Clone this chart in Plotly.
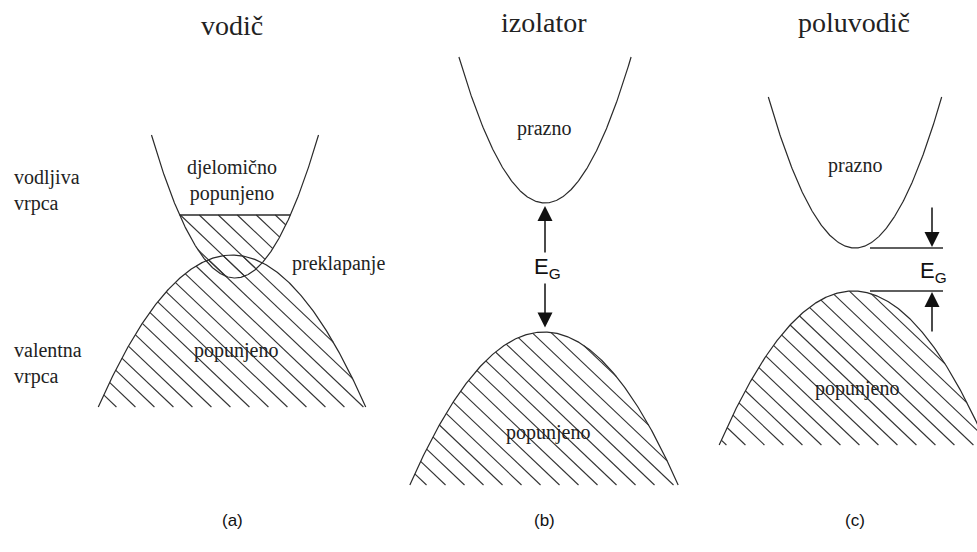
import numpy as np
import plotly.graph_objects as go

# ---------------- data (k = momentum axis, E = energy axis) ----------------
panel_titles = ["vodič", "izolator", "poluvodič"]
panel_tags = ["(a)", "(b)", "(c)"]

# conduction bands: E = E0 + a (k - k0)^2, drawn up to Emax
cb_k0 = [235, 545, 855]
cb_E0 = [274, 349, 304]
cb_curv = [0.0205, 0.0197, 0.0201]
cb_Emax = [417, 495, 455]

# valence bands: E = E0 - a (k - k0)^2, drawn down to Emin
vb_k0 = [232, 544, 853]
vb_E0 = [297, 220, 261]
vb_curv = [0.0085, 0.0085, 0.0086]
vb_Emin = [145, 67, 107]

# filling level in the conductor's conduction band
fermi_E_a = 337

band_labels_left = ["vodljiva<br>vrpca", "valentna<br>vrpca"]
cb_texts = ["djelomično<br>popunjeno", "prazno", "prazno"]
vb_texts = ["popunjeno", "popunjeno", "popunjeno"]
overlap_text = "preklapanje"
gap_text = "E<sub>G</sub>"

# ---------------- layout constants ----------------
W, H = 977, 552
LINE = "#2a2a2a"
SERIF = "Liberation Serif"
SANS = "Liberation Sans"
HATCH_SLOPE = 0.95
HATCH_DK = 19.0

fig = go.Figure()


def cb_curve(i):
    dk = np.sqrt((cb_Emax[i] - cb_E0[i]) / cb_curv[i])
    k = np.linspace(cb_k0[i] - dk, cb_k0[i] + dk, 300)
    return k, cb_E0[i] + cb_curv[i] * (k - cb_k0[i]) ** 2


def vb_curve(i):
    dk = np.sqrt((vb_E0[i] - vb_Emin[i]) / vb_curv[i])
    k = np.linspace(vb_k0[i] - dk, vb_k0[i] + dk, 300)
    return k, vb_E0[i] - vb_curv[i] * (k - vb_k0[i]) ** 2


hx, hy = [], []
s = HATCH_SLOPE
offsets = np.arange(-40, 120) * s * HATCH_DK


def add_seg(b, k_lo, k_hi):
    if k_hi - k_lo > 0.5:
        hx.extend([k_lo, k_hi, None])
        hy.extend([b - s * k_lo, b - s * k_hi, None])


for i in range(3):
    k, E = vb_curve(i)
    fig.add_trace(go.Scatter(x=k, y=E, mode="lines",
                             line=dict(color=LINE, width=1.2), hoverinfo="skip"))
    k, E = cb_curve(i)
    fig.add_trace(go.Scatter(x=k, y=E, mode="lines",
                             line=dict(color=LINE, width=1.2), hoverinfo="skip"))
    a, k0, E0 = vb_curv[i], vb_k0[i], vb_E0[i]
    for b in offsets + 400:
        c = b - s * k0 - E0
        disc = s * s - 4 * a * c
        if disc <= 0:
            continue
        u1 = (s - np.sqrt(disc)) / (2 * a)
        u2 = (s + np.sqrt(disc)) / (2 * a)
        add_seg(b, k0 + u1, min(k0 + u2, (b - vb_Emin[i]) / s))

# hatching of the partly filled conduction band (conductor)
a, k0, E0 = cb_curv[0], cb_k0[0], cb_E0[0]
for b in offsets + 400:
    c = s * k0 + E0 - b
    disc = s * s - 4 * a * c
    if disc <= 0:
        continue
    u1 = (-s - np.sqrt(disc)) / (2 * a)
    u2 = (-s + np.sqrt(disc)) / (2 * a)
    add_seg(b, max(k0 + u1, (b - fermi_E_a) / s), k0 + u2)

fig.add_trace(go.Scatter(x=hx, y=hy, mode="lines",
                         line=dict(color="#333333", width=1.1), hoverinfo="skip"))

# filling level line (conductor)
dkF = np.sqrt((fermi_E_a - cb_E0[0]) / cb_curv[0])
fig.add_trace(go.Scatter(x=[cb_k0[0] - dkF, cb_k0[0] + dkF], y=[fermi_E_a, fermi_E_a],
                         mode="lines", line=dict(color=LINE, width=1.6), hoverinfo="skip"))

# semiconductor band-edge marker lines
edge_k = [870, 943]
for Ee in (cb_E0[2], vb_E0[2]):
    fig.add_trace(go.Scatter(x=edge_k, y=[Ee, Ee], mode="lines",
                             line=dict(color=LINE, width=1.3), hoverinfo="skip"))

ann = []
title_E = [527, 530, 530]
for i in range(3):
    ann.append(dict(x=cb_k0[i] - 3 + (2 if i else 0), y=title_E[i], text=panel_titles[i], showarrow=False,
                    font=dict(family=SERIF, size=28, color="#222222")))
    ann.append(dict(x=vb_k0[i] + (0 if i < 2 else 2), y=32, text=panel_tags[i], showarrow=False,
                    font=dict(family=SANS, size=17, color="#111111")))

ann.append(dict(x=cb_k0[0] - 3, y=372, text=cb_texts[0], showarrow=False,
                font=dict(family=SERIF, size=20, color="#222222")))
ann.append(dict(x=cb_k0[1] - 1, y=424, text=cb_texts[1], showarrow=False,
                font=dict(family=SERIF, size=20, color="#222222")))
ann.append(dict(x=cb_k0[2], y=387, text=cb_texts[2], showarrow=False,
                font=dict(family=SERIF, size=20, color="#222222")))
vb_text_E = [202, 120, 164]
for i in range(3):
    ann.append(dict(x=vb_k0[i] + 4, y=vb_text_E[i], text=vb_texts[i], showarrow=False,
                    font=dict(family=SERIF, size=20, color="#222222")))
ann.append(dict(x=12, y=362, text=band_labels_left[0], showarrow=False, xanchor="left",
                align="left", font=dict(family=SERIF, size=20, color="#222222")))
ann.append(dict(x=12, y=189, text=band_labels_left[1], showarrow=False, xanchor="left",
                align="left", font=dict(family=SERIF, size=20, color="#222222")))
ann.append(dict(x=290, y=289, text=overlap_text, showarrow=False, xanchor="left",
                font=dict(family=SERIF, size=20, color="#222222")))

# insulator gap arrow (double headed)
ann.append(dict(x=cb_k0[1], y=cb_E0[1] - 3, ax=cb_k0[1], ay=vb_E0[1] + 3,
                xref="x", yref="y", axref="x", ayref="y", text="", showarrow=True,
                arrowhead=2, startarrowhead=2, arrowside="end+start",
                arrowsize=2, startarrowsize=2, arrowwidth=1.5, arrowcolor="#111111"))
ann.append(dict(x=cb_k0[1] + 2, y=284, text=gap_text, showarrow=False, bgcolor="white",
                font=dict(family=SANS, size=22, color="#111111")))

# semiconductor gap arrows
ARROW_LEN = 42
ann.append(dict(x=932, y=cb_E0[2] + 1, ax=932, ay=cb_E0[2] + ARROW_LEN,
                xref="x", yref="y", axref="x", ayref="y", text="", showarrow=True,
                arrowhead=2, arrowsize=2, arrowwidth=1.5, arrowcolor="#111111"))
ann.append(dict(x=932, y=vb_E0[2] - 1, ax=932, ay=vb_E0[2] - ARROW_LEN,
                xref="x", yref="y", axref="x", ayref="y", text="", showarrow=True,
                arrowhead=2, arrowsize=2, arrowwidth=1.5, arrowcolor="#111111"))
ann.append(dict(x=933, y=280, text=gap_text, showarrow=False,
                font=dict(family=SANS, size=22, color="#111111")))

fig.update_layout(
    width=W, height=H, margin=dict(l=0, r=0, t=0, b=0),
    paper_bgcolor="white", plot_bgcolor="white", showlegend=False,
    xaxis=dict(range=[0, W], visible=False, fixedrange=True),
    yaxis=dict(range=[0, H], visible=False, fixedrange=True),
    annotations=ann,
)

fig.write_html("out.html", config={"displayModeBar": False},
               post_script="document.body.style.margin='0px';document.body.style.overflow='hidden';")
